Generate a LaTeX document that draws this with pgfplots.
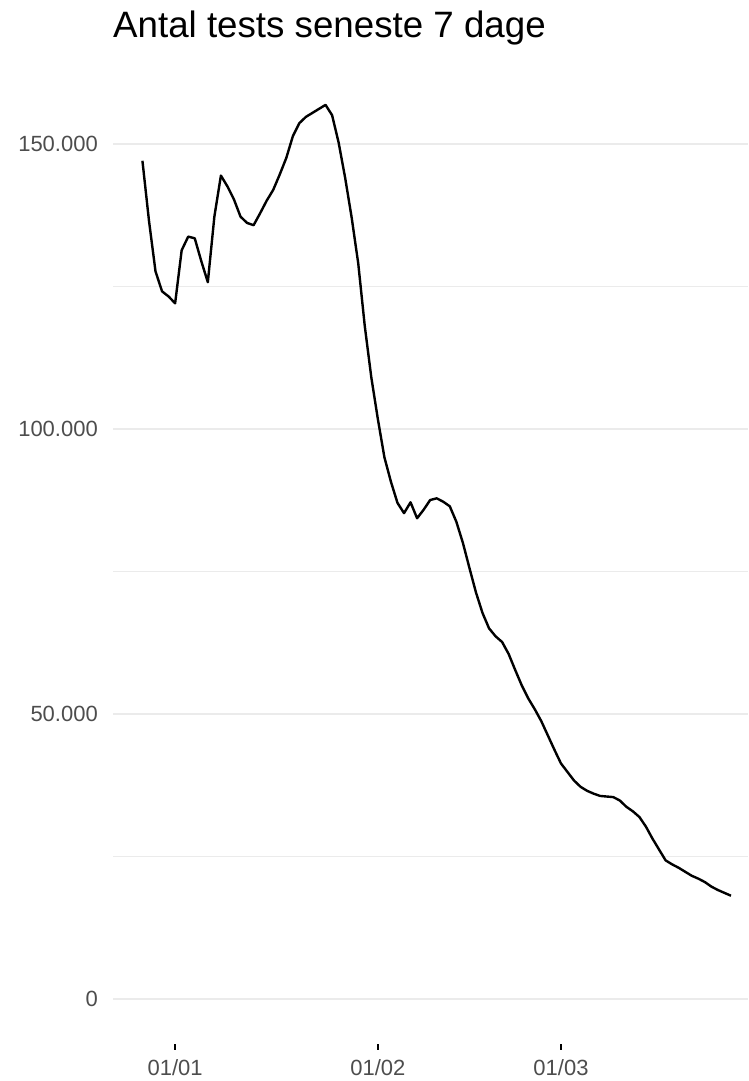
\documentclass[border=0pt]{standalone}
\usepackage{fontspec}
\setmainfont{Liberation Sans}
\usepackage{pgfplots}
\pgfplotsset{compat=1.18}
\definecolor{gridgrey}{HTML}{EBEBEB}
\definecolor{axistext}{HTML}{4D4D4D}

% days counted from 01/01, value = tests over the last 7 days
\pgfplotstableread{
day tests
-5 147000
-4 136500
-3 127600
-2 124100
-1 123200
0 122000
1 131300
2 133700
3 133400
4 129400
5 125700
6 137200
7 144400
8 142500
9 140200
10 137200
11 136100
12 135700
13 137800
14 140000
15 141900
16 144600
17 147500
18 151300
19 153600
20 154700
21 155400
22 156100
23 156800
24 155000
25 150200
26 144000
27 137000
28 129000
29 118000
30 109000
31 101700
32 95000
33 90700
34 87000
35 85200
36 87100
37 84300
38 85800
39 87500
40 87800
41 87200
42 86400
43 83700
44 80000
45 75600
46 71300
47 67700
48 65000
49 63600
50 62600
51 60500
52 57700
53 55000
54 52700
55 50800
56 48700
57 46200
58 43700
59 41300
60 39800
61 38300
62 37200
63 36500
64 36000
65 35600
66 35500
67 35400
68 34800
69 33700
70 32900
71 31900
72 30200
73 28100
74 26200
75 24300
76 23600
77 23000
78 22300
79 21600
80 21100
81 20500
82 19700
83 19100
84 18600
85 18100
}\tests

\begin{document}
\begin{tikzpicture}
\useasboundingbox (0,0) rectangle (748pt,1081pt);
\node[anchor=base west, inner sep=0pt, font=\fontsize{36.7}{40}\selectfont]
  at (113pt,1043.3pt) {Antal tests seneste 7 dage};
\begin{axis}[
  at={(113pt,37.3pt)}, anchor=south west,
  scale only axis,
  width=635pt, height=984.7pt,
  xmin=-9.5, xmax=87.6,
  ymin=-7850, ymax=164850,
  axis x line*=bottom, axis y line*=left,
  axis line style={draw=none},
  xtick={0,31,59},
  xticklabels={01/01,01/02,01/03},
  ytick={0,50000,100000,150000},
  yticklabels={0,50.000,100.000,150.000},
  scaled y ticks=false,
  minor ytick={25000,75000,125000},
  ymajorgrids, yminorgrids,
  major grid style={draw=gridgrey, line width=2.1pt},
  minor grid style={draw=gridgrey, line width=1.05pt},
  tick align=outside,
  major tick length=6pt,
  xtick style={black, line width=1.8pt},
  ytick style={draw=none},
  /pgf/number format/assume math mode=true,
  xticklabel style={anchor=north, inner sep=0pt, yshift=-10pt,
    text=axistext, font=\fontsize{22}{24}\selectfont},
  yticklabel style={anchor=east, inner sep=0pt, xshift=-9pt,
    text=axistext, font=\fontsize{22}{24}\selectfont},
  clip=false,
]
\addplot[black, line width=2.4pt, line join=round] table[x=day, y=tests] {\tests};
\end{axis}
\end{tikzpicture}
\end{document}
